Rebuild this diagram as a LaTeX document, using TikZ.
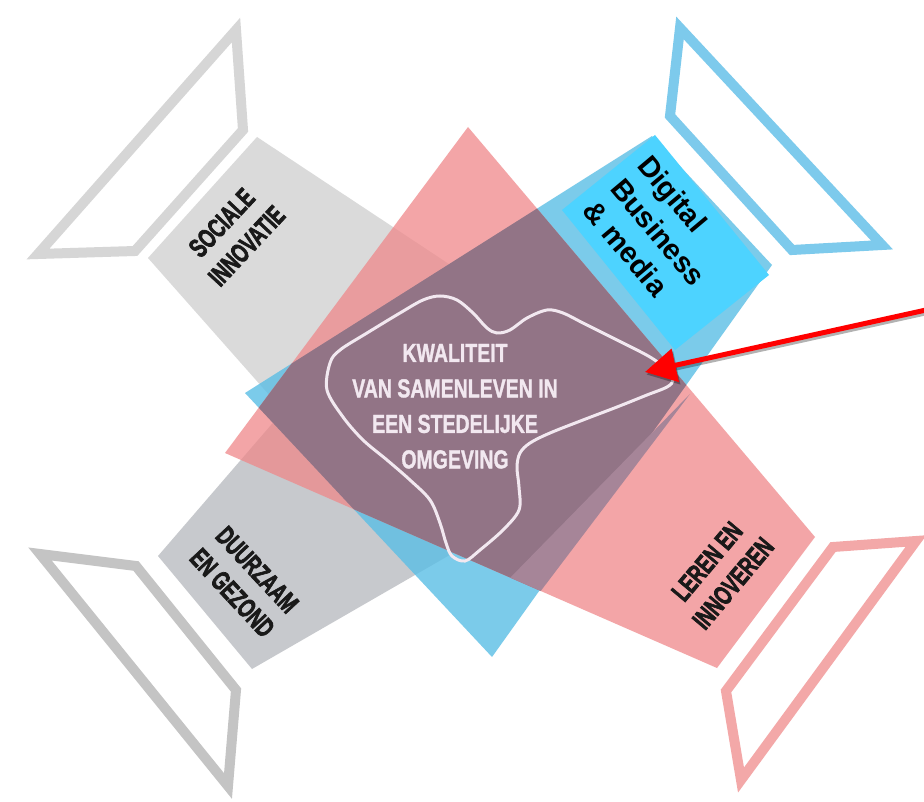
\documentclass[tikz,border=0pt]{standalone}
\usepackage{fontspec}
\setmainfont{Liberation Sans}
\newfontfamily\armfont{Liberation Sans}[UprightFont={* Bold},FakeBold=3]
\newfontfamily\hubfont{Liberation Sans}[UprightFont={* Bold},FakeBold=1.5]
\usetikzlibrary{arrows.meta}
\definecolor{outgrayA}{RGB}{214,214,214}
\definecolor{outgrayB}{RGB}{196,196,196}
\definecolor{outblue}{RGB}{125,202,236}
\definecolor{outpink}{RGB}{243,168,168}
\definecolor{bandgrayA}{RGB}{218,218,218}
\definecolor{bandgrayB}{RGB}{199,201,205}
\definecolor{bandblue}{RGB}{91,190,229}
\definecolor{bandred}{RGB}{239,136,138}
\definecolor{centerpurple}{RGB}{146,116,134}
\definecolor{lightmauve}{RGB}{166,133,152}
\definecolor{cyanbox}{RGB}{77,211,255}
\definecolor{labelink}{RGB}{25,25,25}
\definecolor{centerink}{RGB}{242,232,240}
\definecolor{arrowred}{RGB}{255,0,0}
\begin{document}
\begin{tikzpicture}[x=1pt,y=-1pt,
  outlineframe/.style={line width=10pt,line join=miter,miter limit=25},
  lbltext/.style={font=\armfont\fontsize{27}{34}\selectfont,text=labelink,inner sep=0pt},
  centerlbl/.style={font=\hubfont\fontsize{26}{35.5}\selectfont,text=centerink,inner sep=0pt},
  dbmtext/.style={font=\fontsize{29}{35.5}\selectfont\bfseries,text=black,inner sep=0pt},
  redarrow/.style={line width=5pt,-{Triangle[length=31pt,width=33pt]}}]

\fill[white] (0,0) rectangle (924,802);
\useasboundingbox (0,0) rectangle (924,802);

% corner outlines
\draw[outlineframe,draw=outgrayA] (236,30) -- (243,130) -- (135,251) -- (38,254) -- cycle;
\draw[outlineframe,draw=outblue] (680,28) -- (670,116) -- (792,250) -- (882,245) -- cycle;
\draw[outlineframe,draw=outgrayB] (40,554) -- (136,566) -- (236,690) -- (228,786) -- cycle;
\draw[outlineframe,draw=outpink] (916,541) -- (833,547) -- (726,691) -- (741,780) -- cycle;

% bands
\fill[bandgrayA] (257,137) -- (470,278) -- (340,475) -- (148,258) -- cycle;
\fill[bandgrayB] (158,556) -- (252,669) -- (500,526) -- (340,345) -- cycle;
\fill[bandblue,opacity=0.8] (652,136) -- (772,265) -- (492,657) -- (245,393) -- cycle;
\fill[bandred,opacity=0.75] (468,127) -- (815,537) -- (717,668) -- (225,453) -- cycle;
\begin{scope}
  \clip (468,127) -- (815,537) -- (717,668) -- (225,453) -- cycle;
  \fill[centerpurple] (652,136) -- (772,265) -- (492,657) -- (245,393) -- cycle;
  \fill[lightmauve] (690,394) -- (540,592) -- (508,580) -- cycle;
\end{scope}

% digital business box
\fill[cyanbox] (655,135) -- (769,275) -- (675,350) -- (562,210) -- cycle;
\node[dbmtext,rotate=-50] (dbm) at (656,234)
  {\begin{tabular}{@{}l@{}}Digital\\Business\\\& media\end{tabular}};

% central blob
\draw[centerink,line width=3pt] plot[smooth cycle,tension=0.55] coordinates {
 (327,390) (330,363) (340,350) (367,333) (400,313) (423,300) (440,296) (457,300)
 (473,313) (487,328) (497,333) (510,330) (527,318) (547,310) (563,313) (583,323)
 (617,340) (650,357) (667,370) (673,380) (667,387) (647,395) (617,407) (583,420)
 (550,433) (530,443) (520,453) (517,467) (519,487) (519,510) (503,530) (480,550)
 (465,561) (452,556) (446,543) (440,523) (430,500) (410,480) (387,460) (363,440)
 (343,417)};
\node[centerlbl] (kwaliteit) at (455,408)
  {\scalebox{0.75}[1]{\begin{tabular}{@{}c@{}}KWALITEIT\\VAN SAMENLEVEN IN\\EEN STEDELIJKE\\OMGEVING\end{tabular}}};

% arm labels
\node[lbltext,rotate=47] (sociale) at (236,236)
  {\scalebox{0.68}[1]{\begin{tabular}{@{}c@{}}SOCIALE\\INNOVATIE\end{tabular}}};
\node[lbltext,rotate=-47] (duurzaam) at (243,583)
  {\scalebox{0.68}[1]{\begin{tabular}{@{}c@{}}DUURZAAM\\EN GEZOND\end{tabular}}};
\node[lbltext,rotate=50] (leren) at (722,574)
  {\scalebox{0.68}[1]{\begin{tabular}{@{}c@{}}LEREN EN\\INNOVEREN\end{tabular}}};

% red arrow
\coordinate (arrowfrom) at (926,310);
\coordinate (arrowto) at (645,372);
\draw[redarrow,black,opacity=0.3] ([xshift=1.5pt,yshift=-2.5pt]arrowfrom) -- ([xshift=1.5pt,yshift=-2.5pt]arrowto);
\draw[redarrow,arrowred] (arrowfrom) -- (arrowto);
\end{tikzpicture}
\end{document}
